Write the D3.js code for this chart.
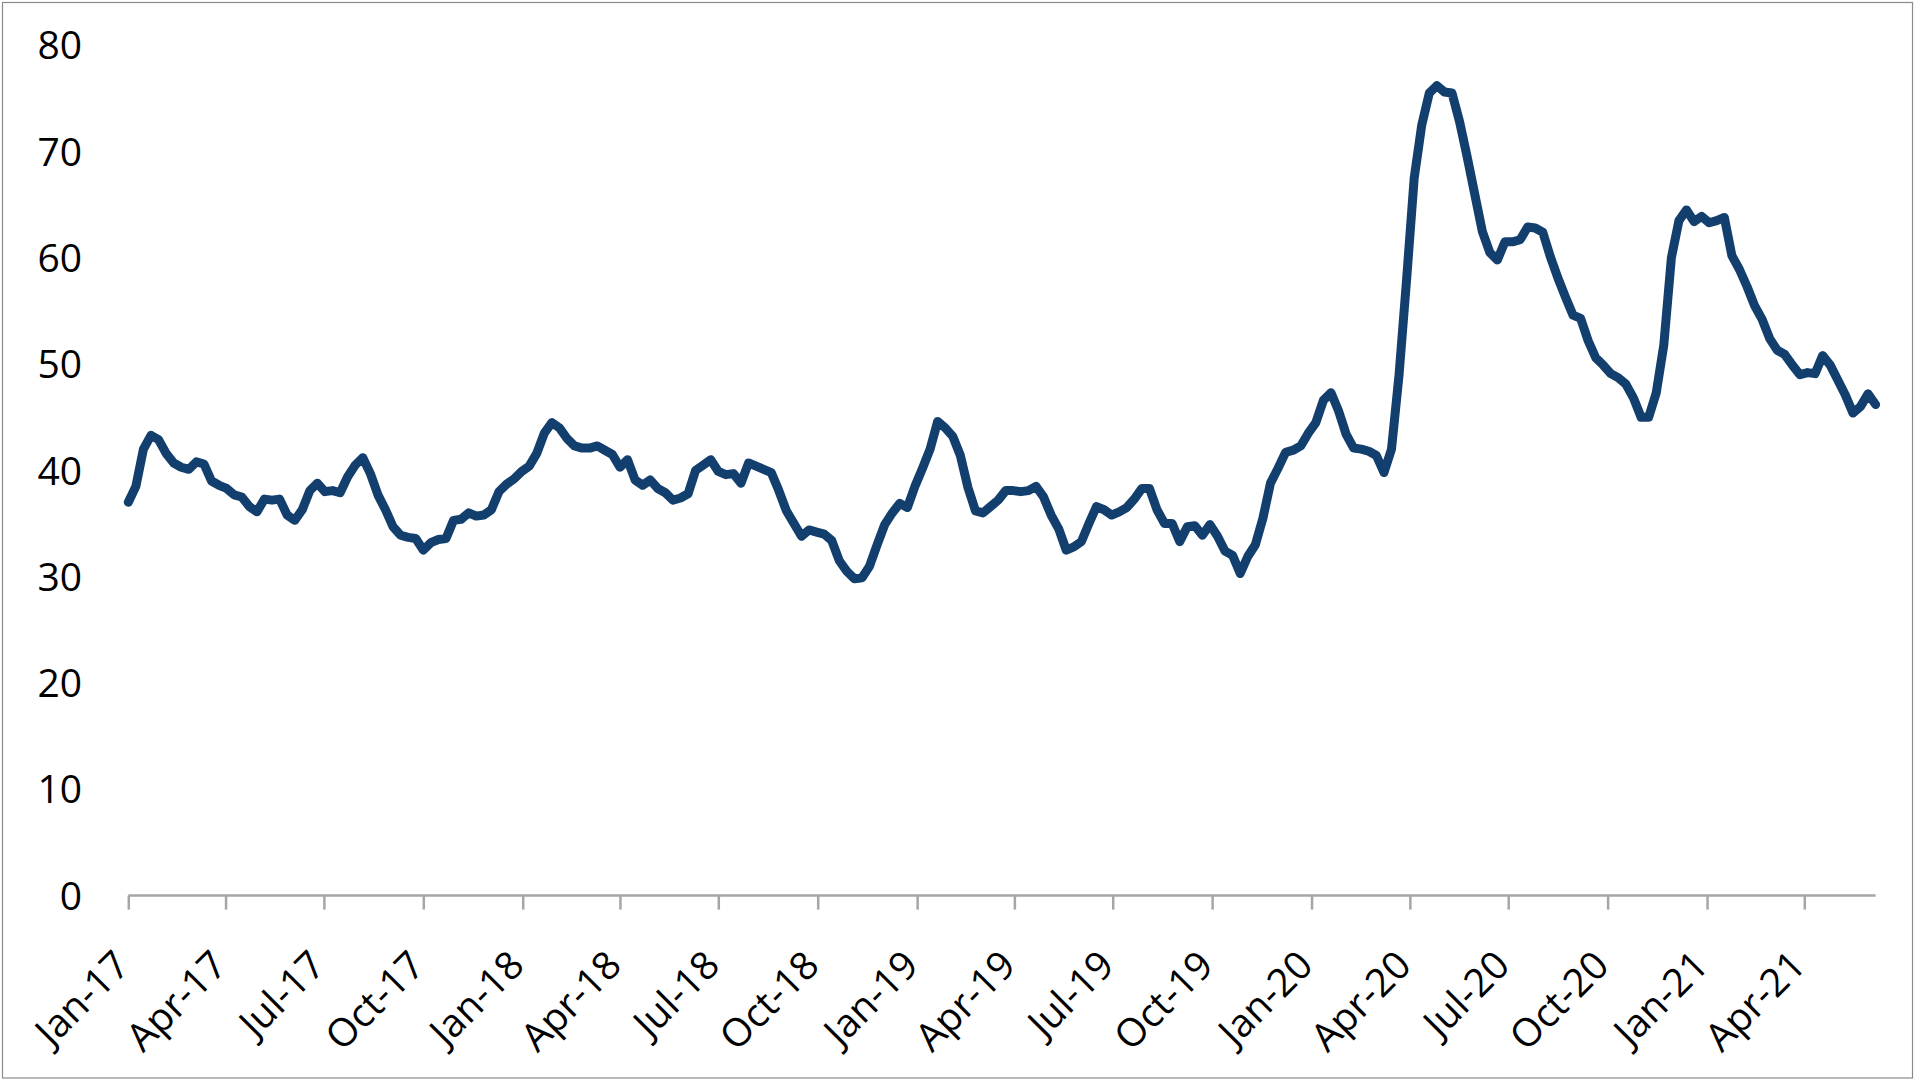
<!DOCTYPE html>
<html>
<head>
<meta charset="utf-8">
<script src="https://cdn.jsdelivr.net/npm/d3@7"></script>
<style>
  html, body { margin: 0; padding: 0; background: #fff; }
  svg { display: block; }
  text { font-family: "Open Sans", "Noto Sans", sans-serif; fill: #000; }
</style>
</head>
<body>
<svg id="chart" width="1916" height="1081"></svg>
<script>
// ---- data (weekly observations, first week starting 2017-01-01) ----
const firstWeek = "2017-01-01";
const lastWeek = "2021-06-06";
const values = [
  37.0, 38.5, 42.0, 43.3, 42.9, 41.6, 40.7, 40.3, 40.1, 40.8,
  40.6, 39.0, 38.6, 38.3, 37.7, 37.5, 36.6, 36.1, 37.3, 37.2,
  37.3, 35.8, 35.3, 36.3, 38.1, 38.8, 38.0, 38.1, 37.9, 39.4,
  40.5, 41.2, 39.7, 37.7, 36.3, 34.7, 33.9, 33.7, 33.6, 32.5,
  33.2, 33.5, 33.6, 35.3, 35.4, 36.0, 35.7, 35.8, 36.3, 38.0,
  38.7, 39.2, 39.9, 40.4, 41.6, 43.5, 44.5, 44.0, 43.0, 42.3,
  42.1, 42.1, 42.3, 41.9, 41.5, 40.3, 41.0, 39.1, 38.6, 39.1,
  38.3, 37.9, 37.2, 37.4, 37.8, 40.0, 40.5, 41.0, 39.9, 39.6,
  39.7, 38.8, 40.7, 40.4, 40.1, 39.8, 38.1, 36.2, 35.0, 33.8,
  34.4, 34.2, 34.0, 33.4, 31.5, 30.5, 29.8, 29.9, 31.0, 33.0,
  34.9, 36.0, 36.9, 36.5, 38.5, 40.2, 42.0, 44.6, 44.0, 43.2,
  41.4, 38.4, 36.2, 36.0, 36.6, 37.2, 38.1, 38.1, 38.0, 38.1,
  38.5, 37.5, 35.8, 34.5, 32.5, 32.8, 33.3, 35.0, 36.6, 36.3,
  35.8, 36.1, 36.5, 37.3, 38.3, 38.3, 36.3, 35.0, 35.0, 33.3,
  34.7, 34.8, 33.9, 34.9, 33.8, 32.4, 32.0, 30.3, 31.9, 33.0,
  35.5, 38.8, 40.2, 41.7, 41.9, 42.3, 43.5, 44.5, 46.6, 47.3,
  45.6, 43.4, 42.1, 42.0, 41.8, 41.4, 39.8, 42.0, 49.0, 58.0,
  67.5, 72.5, 75.5, 76.2, 75.6, 75.5, 72.8, 69.5, 66.0, 62.5,
  60.5, 59.8, 61.5, 61.5, 61.7, 62.9, 62.8, 62.4, 60.1, 58.1,
  56.3, 54.6, 54.3, 52.2, 50.6, 49.9, 49.1, 48.7, 48.1, 46.8,
  45.0, 45.0, 47.3, 51.8, 60.0, 63.5, 64.5, 63.4, 63.9, 63.3,
  63.5, 63.8, 60.2, 58.9, 57.3, 55.5, 54.2, 52.4, 51.3, 50.9,
  49.9, 49.0, 49.2, 49.1, 50.8, 49.9, 48.5, 47.1, 45.4, 46.0,
  47.2, 46.2
];
const xTickDates = [
  "2017-01-01", "2017-04-01", "2017-07-01", "2017-10-01",
  "2018-01-01", "2018-04-01", "2018-07-01", "2018-10-01",
  "2019-01-01", "2019-04-01", "2019-07-01", "2019-10-01",
  "2020-01-01", "2020-04-01", "2020-07-01", "2020-10-01",
  "2021-01-01", "2021-04-01"
];
const xTickLabels = [
  "Jan-17", "Apr-17", "Jul-17", "Oct-17",
  "Jan-18", "Apr-18", "Jul-18", "Oct-18",
  "Jan-19", "Apr-19", "Jul-19", "Oct-19",
  "Jan-20", "Apr-20", "Jul-20", "Oct-20",
  "Jan-21", "Apr-21"
];
const yTicks = [0, 10, 20, 30, 40, 50, 60, 70, 80];

// ---- chart ----
const parse = d3.utcParse("%Y-%m-%d");
const start = parse(firstWeek);
const series = values.map((v, i) => ({ date: d3.utcWeek.offset(start, i), value: v }));

const svg = d3.select("#chart");

// outer frame
svg.append("rect")
  .attr("x", 2.5).attr("y", 2.5)
  .attr("width", 1910).attr("height", 1075.5)
  .attr("fill", "none").attr("stroke", "#8a8a8a").attr("stroke-width", 1.2);

const x = d3.scaleUtc()
  .domain([parse(firstWeek), parse(lastWeek)])
  .range([128.3, 1875.6]);
const y = d3.scaleLinear().domain([0, 80]).range([895.6, 45.2]);

// y axis: labels only
const yAxis = d3.axisLeft(y).tickValues(yTicks).tickSize(0).tickPadding(0)
  .tickFormat(d3.format("d"));
const gy = svg.append("g").attr("transform", "translate(82,0)").call(yAxis);
gy.select(".domain").remove();
gy.selectAll("text")
  .attr("font-size", 39)
  .attr("font-family", "Open Sans, Noto Sans, sans-serif")
  .attr("fill", "#000")
  .attr("dy", "0.35em");

// x axis
const tickDates = xTickDates.map(parse);
const xAxis = d3.axisBottom(x).tickValues(tickDates).tickSize(14)
  .tickFormat((d, i) => xTickLabels[i]);
const gx = svg.append("g").attr("transform", `translate(0,${y(0)})`).call(xAxis);
gx.select(".domain")
  .attr("d", `M${x.range()[0]},0H${x.range()[1]}`)
  .attr("stroke", "#a6a6a6").attr("stroke-width", 2.5);
gx.selectAll(".tick line").attr("stroke", "#a6a6a6").attr("stroke-width", 2.5);
gx.selectAll(".tick text")
  .attr("font-size", 39)
  .attr("font-family", "Open Sans, Noto Sans, sans-serif")
  .attr("fill", "#000")
  .attr("text-anchor", "end")
  .attr("dy", null)
  .attr("y", null)
  .attr("transform", "translate(3,72) rotate(-45)");

// line
const line = d3.line().x(d => x(d.date)).y(d => y(d.value));
svg.append("path")
  .datum(series)
  .attr("d", line)
  .attr("fill", "none")
  .attr("stroke", "#123f6e")
  .attr("stroke-width", 9)
  .attr("stroke-linejoin", "round")
  .attr("stroke-linecap", "round");
</script>
</body>
</html>
